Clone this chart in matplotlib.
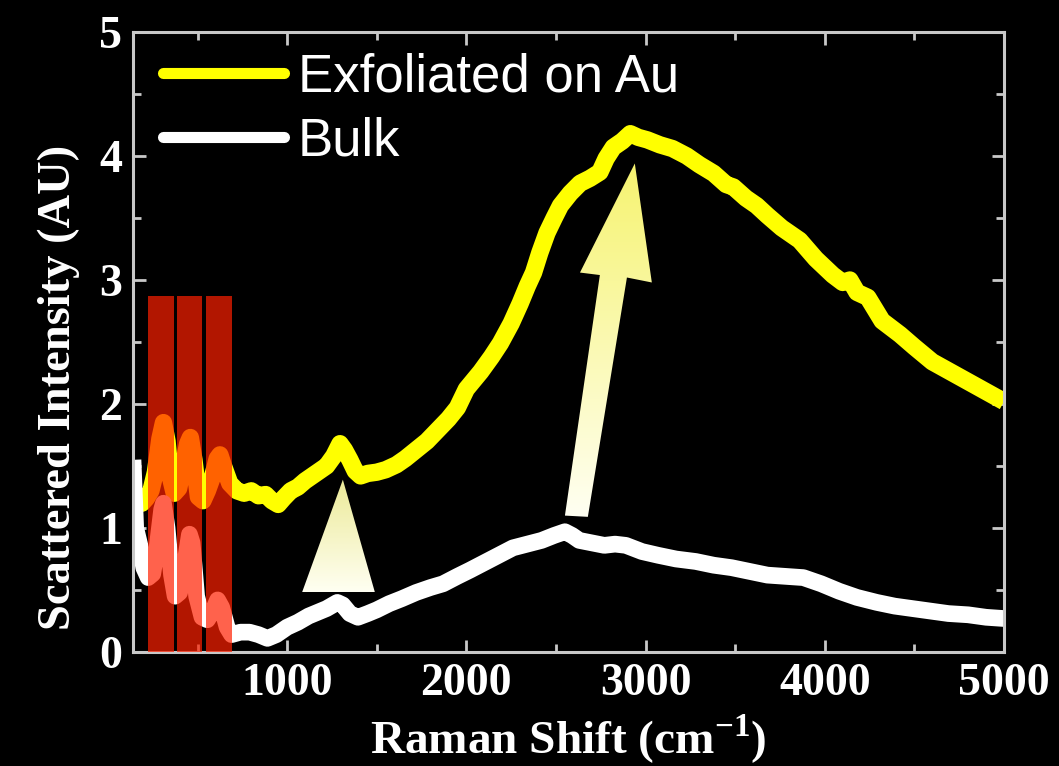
import numpy as np
import matplotlib
matplotlib.use("Agg")
import matplotlib.pyplot as plt
from matplotlib.patches import Polygon, Rectangle
from matplotlib.lines import Line2D
from matplotlib.colors import LinearSegmentedColormap

plt.rcParams["mathtext.fontset"] = "custom"
plt.rcParams["mathtext.bf"] = "Liberation Serif:bold"
plt.rcParams["mathtext.rm"] = "Liberation Serif"

# ---------------- data ----------------
series_names = ["Exfoliated on Au", "Bulk"]

exf_x = [140, 165, 190, 215, 240, 265, 290, 310, 330, 350, 370, 395, 420, 445, 460, 480, 505, 530,
         555, 585, 610, 625, 645, 680, 720, 760, 800, 840, 880, 915, 950, 980, 1020, 1060, 1100,
         1140, 1180, 1220, 1260, 1295, 1320, 1350, 1380, 1410, 1450, 1500, 1550, 1610, 1660, 1720,
         1780, 1840, 1900, 1950, 2000, 2080, 2140, 2190, 2250, 2300, 2340, 2375, 2410, 2450, 2490,
         2525, 2580, 2635, 2690, 2745, 2780, 2820, 2870, 2915, 2960, 3010, 3080, 3150, 3230, 3300,
         3380, 3450, 3490, 3560, 3620, 3680, 3760, 3860, 3950, 4045, 4100, 4140, 4180, 4240, 4320,
         4420, 4500, 4600, 4700, 4800, 4900, 5000]
exf_y = [1.32, 1.22, 1.20, 1.24, 1.30, 1.45, 1.72, 1.85, 1.70, 1.40, 1.28, 1.32, 1.50, 1.68, 1.73,
         1.55, 1.25, 1.22, 1.30, 1.42, 1.56, 1.59, 1.50, 1.36, 1.30, 1.28, 1.30, 1.26, 1.27, 1.22,
         1.19, 1.24, 1.30, 1.33, 1.38, 1.42, 1.46, 1.50, 1.58, 1.68, 1.63, 1.55, 1.46, 1.42, 1.44,
         1.45, 1.47, 1.51, 1.56, 1.63, 1.70, 1.79, 1.88, 1.97, 2.12, 2.26, 2.38, 2.49, 2.65, 2.81,
         2.95, 3.06, 3.22, 3.38, 3.50, 3.60, 3.70, 3.78, 3.82, 3.87, 3.98, 4.07, 4.12, 4.18, 4.15,
         4.13, 4.09, 4.06, 4.00, 3.93, 3.86, 3.77, 3.75, 3.66, 3.60, 3.52, 3.42, 3.32, 3.17, 3.04,
         2.98, 3.00, 2.90, 2.86, 2.67, 2.56, 2.46, 2.34, 2.26, 2.18, 2.10, 2.02]

bulk_x = [140, 155, 180, 200, 225, 250, 275, 300, 310, 330, 355, 375, 400, 430, 455, 470, 495, 525,
          555, 585, 612, 635, 665, 690, 740, 790, 840, 890, 940, 1000, 1060, 1120, 1170, 1220, 1280,
          1310, 1350, 1395, 1450, 1500, 1570, 1640, 1720, 1800, 1870, 1950, 2020, 2100, 2180, 2260,
          2340, 2420, 2490, 2550, 2590, 2630, 2700, 2770, 2830, 2890, 2980, 3070, 3170, 3280, 3380,
          3480, 3580, 3680, 3780, 3880, 3980, 4080, 4180, 4290, 4390, 4490, 4590, 4690, 4800, 4900,
          5000]
bulk_y = [1.55, 1.00, 0.85, 0.68, 0.60, 0.63, 0.85, 1.15, 1.20, 1.00, 0.62, 0.45, 0.48, 0.72, 0.95,
          0.88, 0.45, 0.28, 0.26, 0.33, 0.42, 0.36, 0.20, 0.14, 0.16, 0.16, 0.14, 0.11, 0.14, 0.20,
          0.24, 0.29, 0.32, 0.35, 0.40, 0.38, 0.31, 0.28, 0.31, 0.34, 0.39, 0.43, 0.48, 0.52, 0.55,
          0.61, 0.66, 0.72, 0.78, 0.84, 0.87, 0.90, 0.94, 0.97, 0.94, 0.90, 0.88, 0.86, 0.87, 0.86,
          0.81, 0.78, 0.75, 0.73, 0.70, 0.68, 0.65, 0.62, 0.61, 0.60, 0.55, 0.49, 0.44, 0.40, 0.37,
          0.35, 0.33, 0.31, 0.30, 0.28, 0.27]

# highlighted bands (Raman shift ranges) and their height
band_starts = [224, 385, 547]
band_ends = [369, 525, 692]
band_height = 2.87

x_ticks = [1000, 2000, 3000, 4000, 5000]
y_ticks = [0, 1, 2, 3, 4, 5]

# ---------------- figure ----------------
W, H = 1059, 766
fig = plt.figure(figsize=(W / 100, H / 100), dpi=100, facecolor="black")
ax = fig.add_axes([133 / W, (H - 652) / H, (1004 - 133) / W, (652 - 32) / H])
ax.set_facecolor("black")

serif = ["Liberation Serif", "DejaVu Serif"]
sans = ["Liberation Sans", "DejaVu Sans"]

ax.plot(exf_x, exf_y, color="#FFFF00", lw=12.5, solid_joinstyle="round",
        solid_capstyle="butt", zorder=2)
ax.plot(bulk_x, bulk_y, color="white", lw=12, solid_joinstyle="round",
        solid_capstyle="butt", zorder=2)

for s, e in zip(band_starts, band_ends):
    ax.add_patch(Rectangle((s, 0), e - s, band_height, facecolor="#FF2000",
                           edgecolor="none", alpha=0.70, zorder=3))

ax.set_xlim(140, 5000)
ax.set_ylim(0, 5)


def gradient_polygon(pts, top_col, bot_col):
    poly = Polygon(pts, closed=True, facecolor="none", edgecolor="none",
                   transform=ax.transData)
    ax.add_patch(poly)
    xs = [p[0] for p in pts]
    ys = [p[1] for p in pts]
    cmap = LinearSegmentedColormap.from_list("g", [bot_col, top_col])
    grad = np.linspace(0, 1, 256).reshape(-1, 1)
    im = ax.imshow(grad, cmap=cmap, origin="lower", aspect="auto",
                   extent=[min(xs), max(xs), min(ys), max(ys)], zorder=4,
                   interpolation="bilinear")
    im.set_clip_path(poly)


# small triangle arrow
gradient_polygon([(1083, 0.48), (1490, 0.48), (1311, 1.39)], "#ECEA98", "#FFFFF2")
# large arrow
gradient_polygon([(2550, 1.10), (2678, 1.09), (2896, 3.02), (3035, 2.98), (2940, 3.94),
                  (2634, 3.06), (2745, 3.04)], "#F6F370", "#FFFFF2")

ax.set_xlim(140, 5000)
ax.set_ylim(0, 5)

# axes styling
for sp in ax.spines.values():
    sp.set_color("#C8C8C8")
    sp.set_linewidth(2.2)
ax.set_xticks(x_ticks)
ax.set_yticks(y_ticks)
ax.set_xticks(np.arange(500, 5001, 500), minor=True)
ax.set_yticks(np.arange(0.5, 5, 0.5), minor=True)
ax.tick_params(which="both", direction="in", top=True, right=True, color="#C8C8C8",
               labelcolor="white")
ax.tick_params(which="major", length=9, width=2)
ax.tick_params(which="minor", length=6, width=2)
ax.tick_params(axis="x", pad=8)
ax.tick_params(axis="y", pad=8)
for lab in ax.get_xticklabels() + ax.get_yticklabels():
    lab.set_fontfamily(serif)
    lab.set_fontweight("bold")
    lab.set_fontsize(33)

ax.set_xlabel("Raman Shift (cm$^{\\mathbf{-1}}$)", color="white", fontsize=34,
              fontweight="bold", family=serif)
ax.xaxis.set_label_coords(0.5, -(754 - 652) / (652 - 32))
ax.xaxis.label.set_va("baseline")
ax.set_ylabel("Scattered Intensity (AU)", color="white", fontsize=33.5,
              fontweight="bold", family=serif)
ax.yaxis.set_label_coords(-0.061, 0.427)

handles = [Line2D([0], [0], color="#FFFF00", lw=8, solid_capstyle="round"),
           Line2D([0], [0], color="white", lw=8, solid_capstyle="round")]
leg = ax.legend(handles, series_names, loc="upper left",
                bbox_to_anchor=((163 - 133) / (1004 - 133), 1 - (52 - 32) / (652 - 32)),
                frameon=False, borderpad=0, borderaxespad=0, handlelength=2.3,
                handletextpad=0.25, labelspacing=0.28,
                prop={"family": sans, "size": 38})
for t in leg.get_texts():
    t.set_color("white")

fig.savefig("out.png", dpi=100, facecolor="black")
